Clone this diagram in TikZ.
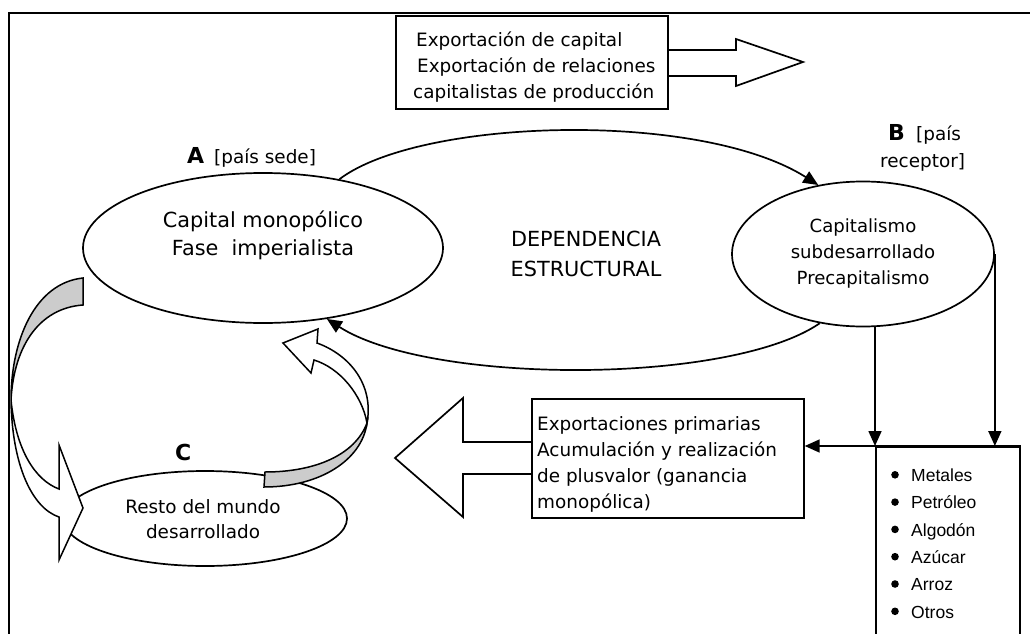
\documentclass[tikz,border=0pt]{standalone}
\usepackage{fontspec}
\setmainfont{DejaVu Sans}
\newfontfamily\listfont{Liberation Sans}
\usetikzlibrary{shapes.geometric,arrows.meta}
\definecolor{bandgray}{HTML}{CCCCCC}
\tikzset{
  ln/.style={line width=1.7pt},
  ell/.style={ellipse, draw, line width=1.7pt, fill=white, inner sep=0pt},
  boxn/.style={draw, line width=1.7pt, fill=white, inner sep=0pt, anchor=north west},
  txt/.style={inner sep=0pt, anchor=base},
  txtl/.style={inner sep=0pt, anchor=base west},
  arr/.style={line width=1.7pt, -{Triangle[length=15pt,width=13pt]}},
  front/.style={draw, line width=1.5pt, fill=white, line join=miter},
  back/.style={draw, line width=1.5pt, fill=bandgray, line join=miter},
  fbox/.style={font=\fontsize{18.4}{22}\selectfont},
  fa/.style={font=\fontsize{20.8}{25}\selectfont},
  fb/.style={font=\fontsize{18.1}{22}\selectfont},
  flab/.style={font=\fontsize{22}{26}\selectfont\bfseries},
  flist/.style={font=\listfont\fontsize{17.5}{21}\selectfont},
}
\begin{document}
\begin{tikzpicture}[x=1pt,y=-1pt]
\useasboundingbox (0,0) rectangle (1030,634);
\clip (0,0) rectangle (1030,634);
\fill[white] (0,0) rectangle (1030,634);
% frame
\draw[line width=2pt] (1040,13) -- (9,13) -- (9,650);

% top box with block arrow
\node[boxn, minimum width=272, minimum height=93] (X) at (395,15) {};
\draw[ln] (667,50) -- (736,50) -- (736,39) -- (803,62) -- (736,86) -- (736,76) -- (667,76);
\node[txtl, fbox] (x1) at (416,47) {Exportación de capital};
\node[txtl, fbox] (x2) at (417,73) {Exportación de relaciones};
\node[txtl, fbox] (x3) at (413,98) {capitalistas de producción};

% ellipses
\node[ell, minimum width=360, minimum height=150] (A) at (263,248) {};
\node[ell, minimum width=262, minimum height=145] (B) at (863,254) {};
\node[ell, minimum width=284, minimum height=95] (C) at (205,518.5) {};

% dependency arcs
\draw[arr] (A.42) .. controls (420,118) and (700,110) .. (B.123);
\draw[arr] (B.238) .. controls (730,385) and (430,385) .. (A.312);

% labels
\node[txtl, flab] (la) at (187,163) {A};
\node[txtl, fbox] (la2) at (214,163) {[país sede]};
\node[txtl, flab] (lb) at (888,140) {B};
\node[txtl, fbox] (lb2) at (916,140) {[país};
\node[txtl, fbox] (lb3) at (880,167) {receptor]};
\node[txtl, flab] (lc) at (175,460) {C};

% ellipse texts
\node[txt, fa] (a1) at (263,227) {Capital monopólico};
\node[txt, fa] (a2) at (263,255) {Fase\ \ imperialista};
\node[txt, fa] (d1) at (586,246) {DEPENDENCIA};
\node[txt, fa] (d2) at (586,276) {ESTRUCTURAL};
\node[txt, fb] (b1) at (863,232) {Capitalismo};
\node[txt, fb] (b2) at (863,258) {subdesarrollado};
\node[txt, fb] (b3) at (863,284) {Precapitalismo};
\node[txt, fbox] (c1) at (203,513) {Resto del mundo};
\node[txt, fbox] (c2) at (203,538) {desarrollado};

% left curved block arrow (A -> C)
\draw[back] (83,278) .. controls (35,283) and (11,340) .. (11,400)
  .. controls (14,345) and (40,308) .. (83,305) -- cycle;
\draw[front] (11,400) .. controls (16,450) and (35,480) .. (59,489)
  -- (59,445) -- (83,508) -- (59,560) -- (59,517)
  .. controls (32,508) and (12,465) .. (11,400) -- cycle;

% right curved block arrow (C -> A)
\draw[back] (265,472) .. controls (315,472) and (355,455) .. (367,423)
  .. controls (362,460) and (320,487) .. (264,487) -- cycle;
\draw[front] (367,423) .. controls (374,385) and (350,355) .. (317,343)
  -- (318,329) -- (283,343) -- (311,373) -- (314,360)
  .. controls (340,368) and (362,395) .. (367,423) -- cycle;

% bottom box with block arrow
\node[boxn, minimum width=272, minimum height=119] (E) at (531,398) {};
\draw[ln] (531,442) -- (463,442) -- (463,398) -- (395,458) -- (463,517) -- (463,474) -- (531,474);
\node[txtl, fbox] (e1) at (537,430) {Exportaciones primarias};
\node[txtl, fbox] (e2) at (537,456) {Acumulación y realización};
\node[txtl, fbox] (e3) at (537,482) {de plusvalor (ganancia};
\node[txtl, fbox] (e4) at (537,508) {monopólica)};

% list box
\node[boxn, minimum width=144, minimum height=230] (L) at (875,446) {};
\draw[arr] (L.north west |- B.south) -- (L.north west);
\draw[arr] (B.east) -- (B.east |- L.north);
\draw[arr] (L.north east) -- (L.north east -| E.east);
\foreach \y/\t [count=\i] in {481.5/Metales, 508.8/Petróleo, 536.1/Algodón, 563.4/Azúcar, 590.7/Arroz, 618/Otros}{
  \fill (895,\y-6.7) circle (3.8pt);
  \node[txtl, flist] (li\i) at (911,\y) {\t};
}
\end{tikzpicture}
\end{document}
